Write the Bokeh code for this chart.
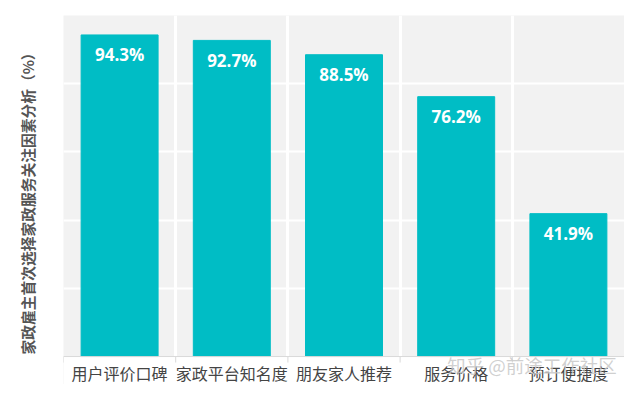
import math
from bokeh.plotting import figure
from bokeh.models import Range1d, FixedTicker, Label, ColumnDataSource, BoxAnnotation, Span
from bokeh.core.properties import value
from bokeh.embed import file_html
from bokeh.resources import INLINE

categories = ["用户评价口碑", "家政平台知名度", "朋友家人推荐", "服务价格", "预订便捷度"]
values = [94.3, 92.7, 88.5, 76.2, 41.9]
value_labels = ["94.3%", "92.7%", "88.5%", "76.2%", "41.9%"]
y_title = "家政雇主首次选择家政服务关注因素分析（%）"
watermark = "知乎 @前途工作社区"

idx = list(range(len(categories)))
bounds = [i - 0.5 for i in idx] + [len(idx) - 0.5]
src = ColumnDataSource(dict(x=idx, top=values, lab=value_labels, cat=categories))

p = figure(width=624, height=384, output_backend="svg", toolbar_location=None,
           x_range=Range1d(-0.5, len(categories) - 0.5), y_range=Range1d(-8.2, 100),
           min_border_left=63, min_border_right=0, min_border_top=15, min_border_bottom=0)
p.background_fill_color = "#f2f2f2"
p.border_fill_color = "white"
p.outline_line_color = None
p.xaxis.visible = False

# tick-less y axis carrying only the rotated axis title
ya = p.yaxis[0]
ya.ticker = FixedTicker(ticks=[])
ya.axis_line_color = None
ya.major_tick_line_color = None
ya.minor_tick_line_color = None
ya.major_tick_out = 0
ya.minor_tick_out = 0
ya.axis_label = y_title
ya.axis_label_text_font = "Noto Sans CJK SC"
ya.axis_label_text_font_size = "14.75px"
ya.axis_label_text_font_style = "bold"
ya.axis_label_text_color = "#555555"
ya.axis_label_standoff = 26

# grids
p.xgrid.ticker = FixedTicker(ticks=bounds[1:-1])
p.xgrid.grid_line_color = "white"
p.xgrid.grid_line_width = 3
p.ygrid.ticker = FixedTicker(ticks=[20, 40, 60, 80])
p.ygrid.grid_line_color = "white"
p.ygrid.grid_line_width = 2

# white area below the baseline (category label zone)
p.add_layout(BoxAnnotation(top=0, fill_color="white", fill_alpha=1.0,
                           line_color=None, level="underlay"))

p.vbar(x="x", top="top", width=0.686, bottom=0, source=src, color="#00bdc5")
p.text(x="x", y="top", text="lab", source=src, text_color="white",
       text_font=value("Open Sans"), text_font_style="bold", text_font_size="17px",
       text_align="center", text_baseline="middle", y_offset=20)

# baseline and band ticks
p.add_layout(Span(location=0, dimension="width", line_color="#d9d9d9", line_width=1))
p.ray(x=bounds, y=[0] * len(bounds), length=6, length_units="screen",
      angle=-math.pi / 2, line_color="#d9d9d9", line_width=1)

# category labels
p.text(x="x", y=0, text="cat", source=src, text_color="#444444",
       text_font=value("Noto Sans CJK SC"), text_font_size="16px",
       text_align="center", text_baseline="middle", y_offset=16)

wm = Label(x=2.92, y=0, y_offset=-8, text=watermark,
           text_font="Noto Sans CJK SC", text_font_size="18.5px", text_color="#c8c8c8",
           text_alpha=0.85, text_baseline="middle", text_align="left")
p.add_layout(wm)

open("out.html", "w").write(file_html(p, INLINE))
